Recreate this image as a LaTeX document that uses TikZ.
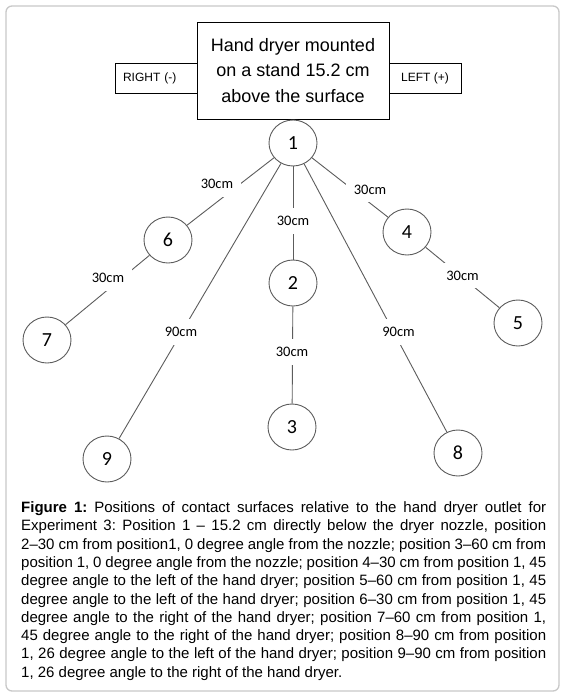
\documentclass[tikz,border=0pt]{standalone}
\usepackage{fontspec}
\setmainfont{Liberation Sans}
\newfontfamily\calib{Carlito}
\usetikzlibrary{shapes.geometric}
\definecolor{linec}{HTML}{5C5C5C}
\definecolor{framec}{HTML}{C8C8C8}
\frenchspacing
\begin{document}
\begin{tikzpicture}[x=1pt,y=-1pt,
  posn/.style={ellipse, draw=linec, line width=0.9pt, minimum width=48pt, minimum height=46pt, inner sep=0pt, fill=white, font=\calib\fontsize{20}{20}\selectfont},
  lbl/.style={fill=white, inner xsep=8pt, inner ysep=8pt, text height=9.5pt, text depth=0pt, font=\calib\fontsize{14.5}{14.5}\selectfont},
  conn/.style={draw=linec, line width=0.9pt},
  sidebox/.style={draw=black, line width=0.9pt, minimum height=30pt, inner ysep=0pt, font=\fontsize{12}{12}\selectfont},
  mainbox/.style={draw=black, line width=0.9pt, fill=white, align=center, font=\fontsize{18}{25.8}\selectfont}
]
\useasboundingbox (0,0) rectangle (564,698);
\draw[framec, line width=1.3pt, rounded corners=6pt] (6,6) rectangle (559,691);

\node[sidebox, text width=66pt, inner xsep=8pt, align=left] (right) at (156,78) {RIGHT (-)};
\node[sidebox, minimum width=72pt] (left) at (425,78) {LEFT (+)};
\node[mainbox, minimum width=192pt, minimum height=97pt] (dryer) at (293,70.5) {Hand dryer mounted\\on a stand 15.2 cm\\above the surface};

\node[posn] (p1) at (293,143) {1};
\node[posn] (p2) at (293,283) {2};
\node[posn] (p3) at (292,427) {3};
\node[posn] (p4) at (407,232) {4};
\node[posn] (p5) at (518,323) {5};
\node[posn] (p6) at (168,240) {6};
\node[posn] (p7) at (47,340) {7};
\node[posn] (p8) at (458,453) {8};
\node[posn] (p9) at (107,459) {9};

\draw[conn] (p1) -- (p6);
\draw[conn] (p6) -- (p7);
\draw[conn] (p1) -- (p2);
\draw[conn] (p2) -- (p3);
\draw[conn] (p1) -- (p4);
\draw[conn] (p4) -- (p5);
\draw[conn] (p1) -- (p9);
\draw[conn] (p1) -- (p8);

\node[lbl] (l16) at (217,184) {30cm};
\node[lbl] (l67) at (108,278) {30cm};
\node[lbl] (l12) at (293,221) {30cm};
\node[lbl] (l23) at (292,352) {30cm};
\node[lbl] (l14) at (370,189.5) {30cm};
\node[lbl] (l45) at (462.5,275.5) {30cm};
\node[lbl] (l19) at (181,332) {90cm};
\node[lbl] (l18) at (398.5,332) {90cm};

\node[anchor=base west, inner sep=0pt, text width=525pt, align=justify, font=\fontsize{15}{18.3}\selectfont] (cap) at (21,512.5) {\frenchspacing\tolerance=10000 \hbadness=10000 \hfuzz=20pt \textbf{Figure 1:} Positions of contact surfaces relative to the hand dryer outlet for\linebreak
Experiment 3: Position 1 – 15.2 cm directly below the dryer nozzle, position\linebreak
2–30 cm from position1, 0 degree angle from the nozzle; position 3–60 cm from\linebreak
position 1, 0 degree angle from the nozzle; position 4–30 cm from position 1, 45\linebreak
degree angle to the left of the hand dryer; position 5–60 cm from position 1, 45\linebreak
degree angle to the left of the hand dryer; position 6–30 cm from position 1, 45\linebreak
degree angle to the right of the hand dryer; position 7–60 cm from position 1,\linebreak
45 degree angle to the right of the hand dryer; position 8–90 cm from position\linebreak
1, 26 degree angle to the left of the hand dryer; position 9–90 cm from position\linebreak
1, 26 degree angle to the right of the hand dryer.};
\end{tikzpicture}
\end{document}
